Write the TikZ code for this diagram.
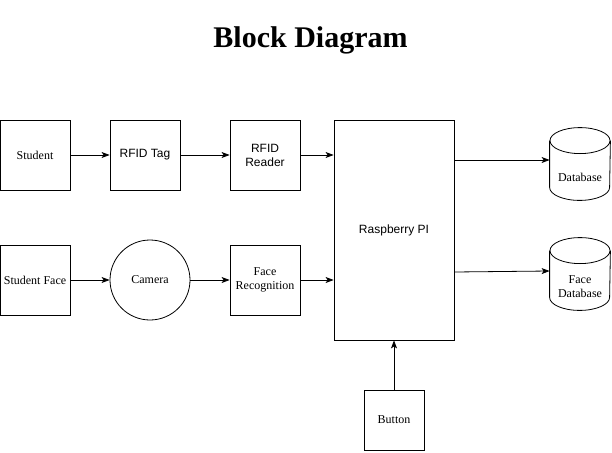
\documentclass[tikz,border=0pt]{standalone}
\usepackage{fontspec}
\setmainfont{Liberation Serif}
\setsansfont{Liberation Sans}
\usetikzlibrary{arrows.meta}
\begin{document}
\begin{tikzpicture}[x=1pt,y=-1pt]
\tikzstyle{every node}=[text centered, font=\fontsize{12}{14}\selectfont, line width=0.8pt]
\tikzstyle{block} = [draw, rectangle, minimum width=70pt, minimum height=70pt, align=center];
\tikzstyle{eye} = [draw, circle, minimum size=80pt];
\tikzstyle{store} = [rectangle, inner sep=0pt, minimum width=60pt, minimum height=46pt, align=center];
\tikzstyle{arrow} = [line width=0.8pt, -{Stealth[length=8pt,width=6pt,inset=2pt]}];
\useasboundingbox (0,0) rectangle (612,452);
% title
\node (title) at (310.5,40) {\fontsize{30}{34}\selectfont\bfseries Block Diagram};
% rfid row
\node[block] (student) at (35,155) {Student};
\node[block] (tag) at (145,155) {\sffamily RFID Tag};
\node[block] (reader) at (265,155) {\sffamily RFID\\\sffamily Reader};
% face row
\node[block] (face) at (35,280) {Student Face};
\node[eye] (camera) at (150,280) {Camera};
\node[block] (recog) at (265,280) {Face\\Recognition};
% controller
\node[block, minimum width=120pt, minimum height=220pt] (pi) at (394,230) {\sffamily Raspberry PI};
\node[block, minimum width=60pt, minimum height=60pt] (button) at (394,420) {Button};
% storage, body nodes with the cylinder drawn round them
\node[store] (db) at (580,177) {Database};
\node[store] (facedb) at (580,287) {Face\\Database};
\foreach \n in {db,facedb} {
  \draw[line width=0.8pt] ([yshift=13pt]\n.north west) -- ([yshift=13pt]\n.south west)
    arc[start angle=180, end angle=360, x radius=30pt, y radius=13pt]
    -- ([yshift=13pt]\n.north east);
  \draw[line width=0.8pt] ([yshift=13pt]\n.north) ellipse [x radius=30pt, y radius=13pt];
}
\coordinate (dbin) at ([yshift=17pt]db.west);
\coordinate (facedbin) at ([yshift=16pt]facedb.west);
% connectors
\draw[arrow] (student) -- (tag);
\draw[arrow] (tag) -- (reader);
\draw[arrow] (reader) -- (reader -| pi.west);
\draw[arrow] (face) -- (camera);
\draw[arrow] (camera) -- (recog);
\draw[arrow] (recog) -- (recog -| pi.west);
\draw[arrow] (pi.east |- dbin) -- (dbin);
\draw[arrow] ([yshift=-1pt]pi.east |- facedbin) -- (facedbin);
\draw[arrow] (button) -- (button |- pi.south);
\end{tikzpicture}
\end{document}
